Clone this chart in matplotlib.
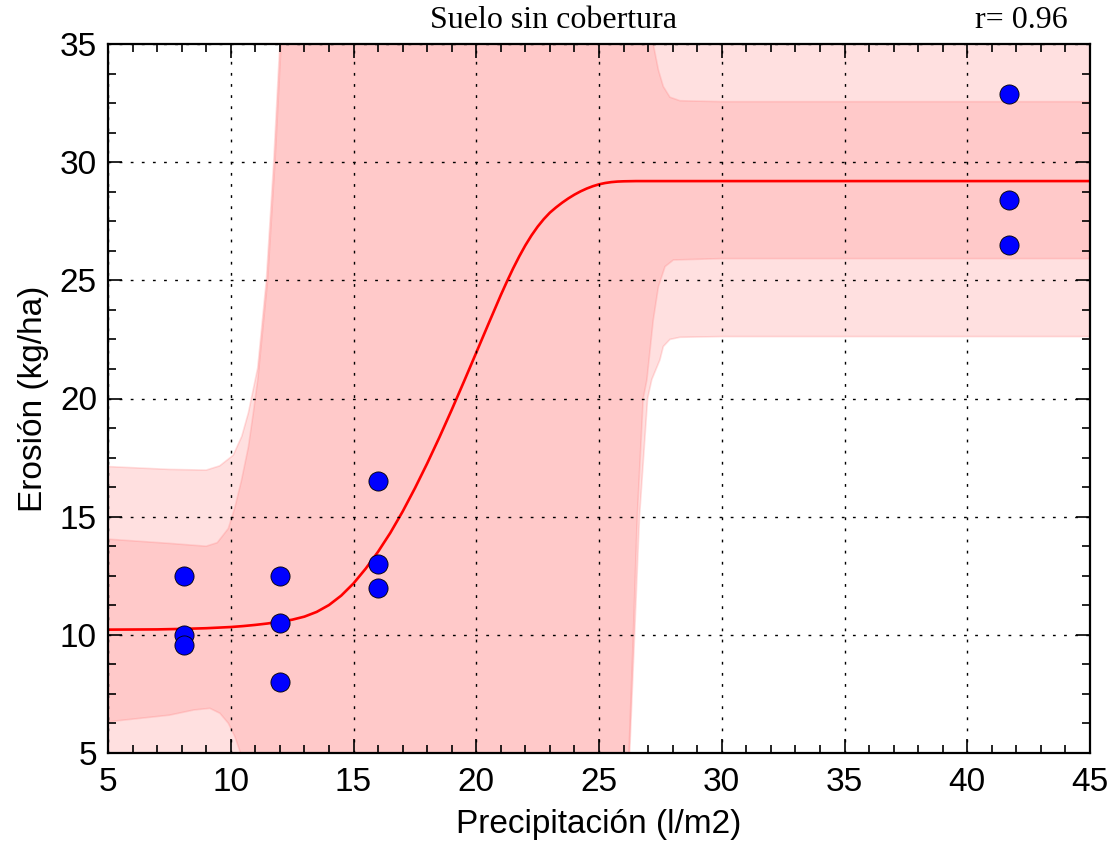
import numpy as np
import matplotlib
matplotlib.use("Agg")
import matplotlib.pyplot as plt
from matplotlib.ticker import MultipleLocator

# Observed rainfall / erosion pairs
precip = [8.1, 8.1, 8.1, 12.0, 12.0, 12.0, 16.0, 16.0, 16.0, 41.7, 41.7, 41.7]
erosion = [12.5, 10.0, 9.55, 12.5, 10.5, 8.0, 16.5, 13.0, 12.0, 32.9, 28.4, 26.5]

# Fitted sigmoid curve
curve_x = [5.0, 7.0, 8.0, 9.0, 10.0, 10.5, 11.0, 11.5, 12.0, 12.5, 13.0, 13.5, 14.0, 14.5,
           15.0, 15.5, 16.0, 16.5, 17.0, 17.5, 18.0, 18.5, 19.0, 19.5, 20.0, 20.5, 21.0,
           21.25, 21.5, 21.75, 22.0, 22.25, 22.5, 22.75, 23.0, 23.25, 23.5, 23.75, 24.0,
           24.25, 24.5, 24.75, 25.0, 25.25, 25.5, 25.75, 26.0, 26.5, 45.0]
curve_y = [10.22, 10.23, 10.25, 10.28, 10.33, 10.37, 10.42, 10.48, 10.56, 10.64, 10.77, 10.97,
           11.26, 11.66, 12.175, 12.805, 13.515, 14.315, 15.215, 16.2, 17.25, 18.36, 19.52,
           20.72, 21.94, 23.165, 24.375, 24.95, 25.5, 26.01, 26.48, 26.9, 27.27, 27.59,
           27.865, 28.086, 28.286, 28.466, 28.626, 28.765, 28.884, 28.983, 29.062, 29.118,
           29.156, 29.179, 29.19, 29.199, 29.2]

# Outer (prediction) band edges
outer_up_x = [5, 7.5, 9.0, 9.55, 10.1, 10.45, 10.72, 10.92, 11.1, 11.45, 11.75, 12.0, 12.3, 45]
outer_up_y = [17.12, 17.0, 16.97, 17.15, 17.6, 18.4, 19.4, 20.4, 21.3, 25.0, 30.0, 35.0, 40, 40]
outer_lo_x = [5, 26.05, 26.25, 26.45, 26.65, 26.98, 27.15, 27.48, 27.62, 27.89, 28.3, 30, 45]
outer_lo_y = [0, 0, 5.0, 10.0, 15.0, 20.0, 20.8, 21.63, 22.2, 22.5, 22.59, 22.62, 22.62]

# Inner (confidence) band edges
inner_up_x = [5, 7.5, 9.0, 9.45, 9.9, 10.17, 10.44, 10.72, 10.92, 11.1, 11.5, 11.8, 12.05, 12.3,
              27.0, 27.21, 27.42, 27.62, 27.89, 28.3, 30.0, 45]
inner_up_y = [14.05, 13.87, 13.75, 13.9, 14.5, 15.4, 16.55, 17.96, 19.4, 20.8, 25.0, 30.0, 35.0, 40,
              40, 35.0, 33.9, 33.2, 32.75, 32.6, 32.56, 32.56]
inner_lo_x = [5, 7.5, 8.5, 9.15, 9.56, 9.9, 10.17, 10.38, 10.6, 10.9, 26.0, 26.22, 26.4, 26.56,
              26.8, 26.95, 27.21, 27.42, 27.69, 28.03, 30, 45]
inner_lo_y = [6.32, 6.6, 6.82, 6.89, 6.68, 6.26, 5.69, 5.05, 4.2, 0, 0, 5.0, 10.0, 15.0,
              20.0, 20.78, 23.32, 24.73, 25.58, 25.86, 25.92, 25.92]

xlim = (5, 45)
ylim = (5, 35)

plt.rcParams["font.family"] = ["Liberation Sans", "DejaVu Sans"]

fig = plt.figure(figsize=(11.16, 8.41), dpi=100)
ax = fig.add_axes([108 / 1116, 1 - 753 / 841, (1090 - 108) / 1116, (753 - 44) / 841])


def band(ax, ux, uy, lx, ly, alpha):
    xs = np.concatenate([ux, lx[::-1]])
    ys = np.concatenate([uy, ly[::-1]])
    ax.fill(xs, ys, facecolor=(1, 0, 0, alpha), edgecolor=(1, 0, 0, alpha),
            linewidth=1.2, zorder=1)


band(ax, np.array(outer_up_x), np.array(outer_up_y),
     np.array(outer_lo_x), np.array(outer_lo_y), 0.12)
band(ax, np.array(inner_up_x), np.array(inner_up_y),
     np.array(inner_lo_x), np.array(inner_lo_y), 0.10)

ax.plot(curve_x, curve_y, color="red", linewidth=1.9, zorder=2,
        solid_joinstyle="round")

ax.scatter(precip, erosion, s=190, c="blue", edgecolors="black", linewidths=0.6, zorder=4)

ax.set_xlim(*xlim)
ax.set_ylim(*ylim)
ax.xaxis.set_major_locator(MultipleLocator(5))
ax.xaxis.set_minor_locator(MultipleLocator(1))
ax.yaxis.set_major_locator(MultipleLocator(5))
ax.yaxis.set_minor_locator(MultipleLocator(1.25))
ax.tick_params(which="both", direction="in", top=True, right=True, labelsize=24, width=1.2)
ax.tick_params(which="major", length=10)
ax.tick_params(which="minor", length=6)
ax.tick_params(axis="x", which="major", pad=10)
ax.tick_params(axis="y", which="major", pad=8)
for s in ax.spines.values():
    s.set_linewidth(1.6)
ax.grid(True, which="major", color="black", linestyle=(0, (2, 6)), linewidth=1.0, zorder=3)
ax.set_axisbelow(False)

ax.set_xlabel("Precipitación (l/m2)", fontsize=24, labelpad=8)
ax.set_ylabel("Erosión (kg/ha)", fontsize=24, labelpad=8)

fig.text(0.496, 0.976, "Suelo sin cobertura", ha="center", va="center",
         family="Liberation Serif", fontsize=23)
fig.text(0.957, 0.976, "r= 0.96", ha="right", va="center",
         family="Liberation Serif", fontsize=23)

fig.savefig("out.png", dpi=100)
